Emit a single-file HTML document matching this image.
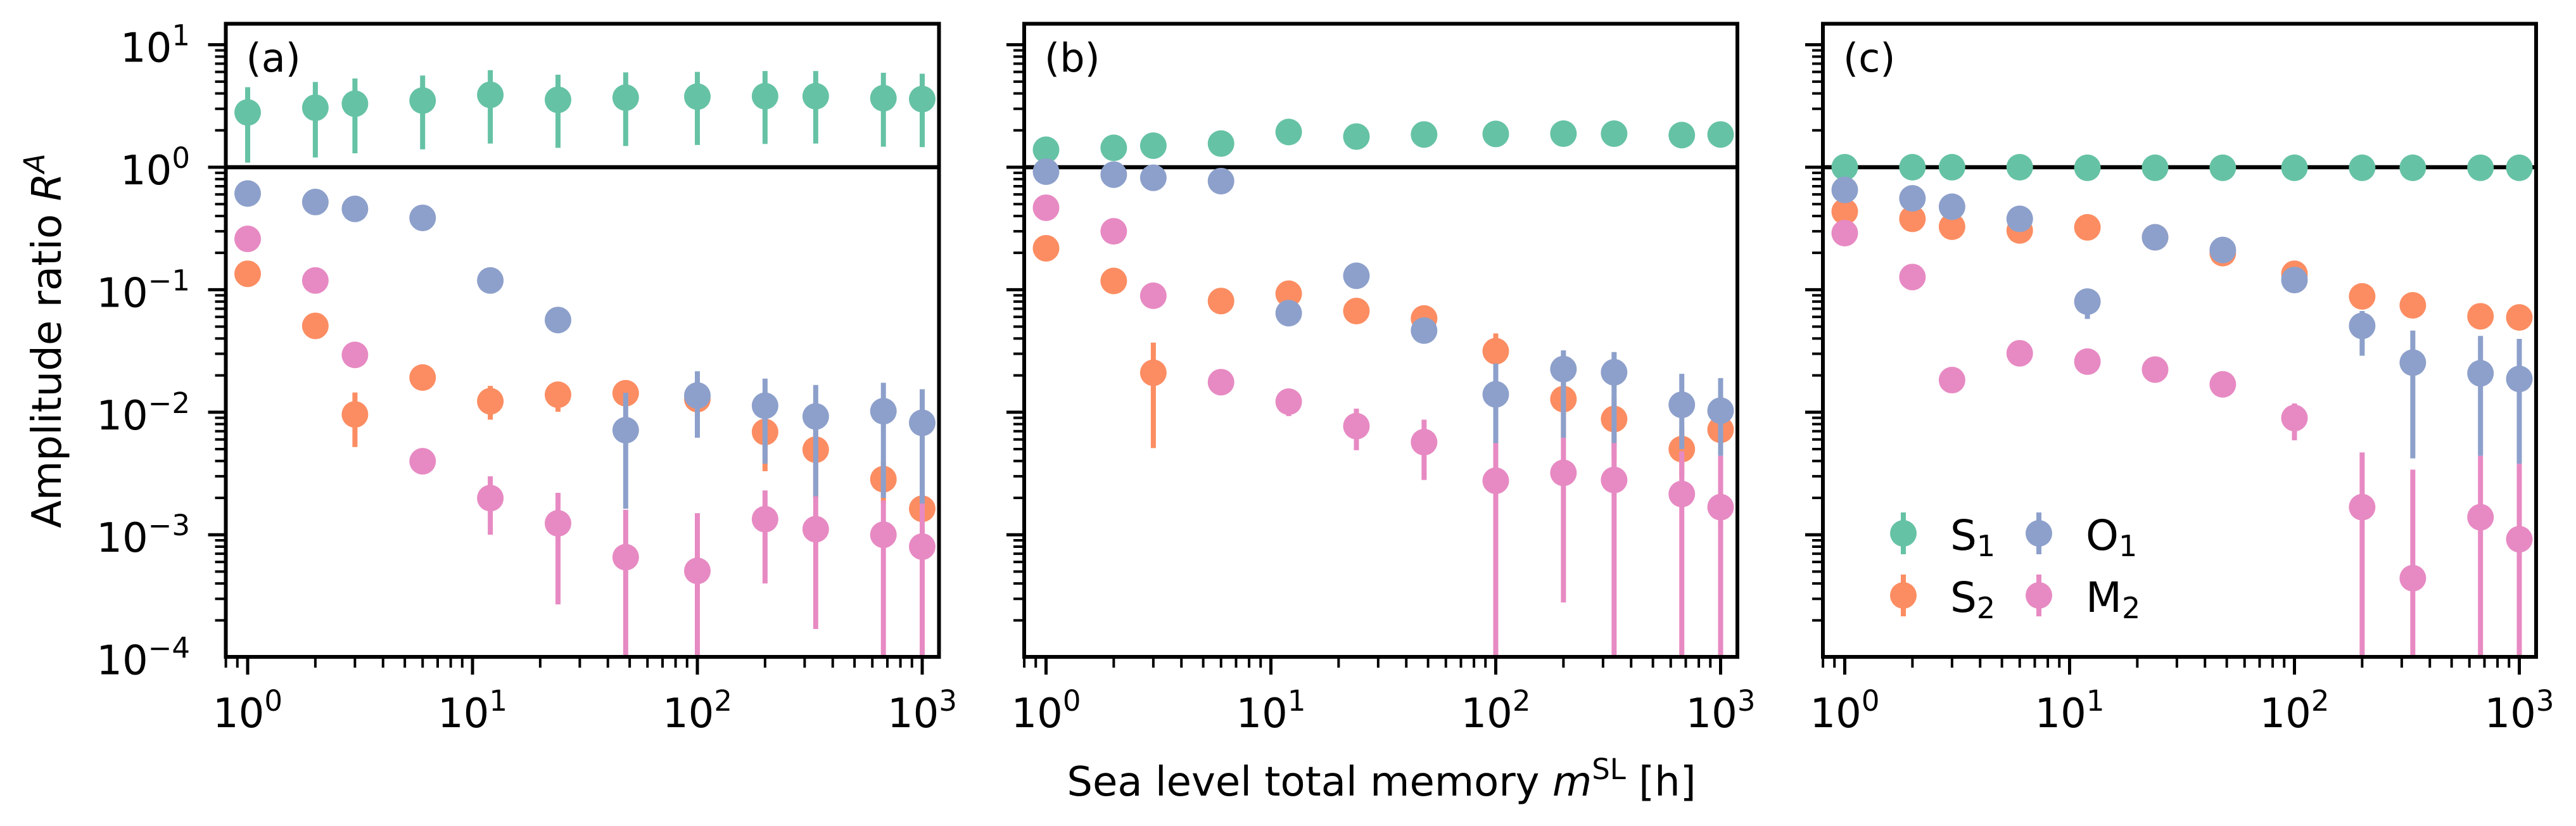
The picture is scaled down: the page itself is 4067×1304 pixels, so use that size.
<!DOCTYPE html>
<html><head><meta charset="utf-8">
<style>
html,body{margin:0;padding:0;background:#fff;}
svg{display:block;font-family:"DejaVu Sans","Liberation Sans",sans-serif;}
</style></head>
<body>
<svg id="fig" width="4067" height="1304" viewBox="0 0 4067 1304" xmlns="http://www.w3.org/2000/svg">
<rect width="4067" height="1304" fill="#fff"/>
<text transform="translate(96,538) rotate(-90)" text-anchor="middle" font-size="64">Amplitude ratio <tspan font-style="italic">R</tspan><tspan font-style="italic" font-size="45" dy="-26">A</tspan></text>
<text x="2181" y="1256" text-anchor="middle" font-size="64">Sea level total memory <tspan font-style="italic">m</tspan><tspan font-size="45" dy="-26">SL</tspan><tspan dy="26"> [h]</tspan></text>
<g id="panels"></g>
</svg>
<script>
// ---- data ----
const memory = [1,2,3,6,12,24,48,100,200,336,672,1000];
const seriesNames = ['S1','S2','O1','M2'];
const seriesColors = ['#66c2a5','#fc8d62','#8da0cb','#e78ac3'];
const panelLabels = ['(a)','(b)','(c)'];
const xTickLabels = ['0','1','2','3'];
const yTickLabels = ['1','0','\u22121','\u22122','\u22123','\u22124'];

// panel a
const aS1 = [2.8,3.06,3.3,3.5,3.9,3.55,3.7,3.77,3.8,3.8,3.66,3.6];
const aS1lo = [1.09,1.2,1.3,1.4,1.56,1.44,1.49,1.52,1.55,1.56,1.47,1.46];
const aS1hi = [4.5,4.97,5.3,5.6,6.2,5.7,5.95,6.0,6.1,6.1,5.9,5.8];
const aS2 = [0.135,0.0507,0.0096,0.0192,0.0123,0.0139,0.0143,0.0128,0.0069,0.00495,0.00284,0.00163];
const aS2lo = [0.13,0.049,0.0052,0.0185,0.0087,0.0101,0.0125,0.011,0.0033,0.002,0.0018,0.0012];
const aS2hi = [0.14,0.052,0.0145,0.02,0.0164,0.0159,0.016,0.0145,0.0095,0.0075,0.004,0.0022];
const aO1 = [0.61,0.52,0.457,0.386,0.119,0.0566,0.00714,0.0137,0.0113,0.00924,0.0102,0.0082];
const aO1lo = [0.6,0.51,0.45,0.38,0.117,0.055,0.00163,0.0062,0.0038,0.002,0.002,0.0012];
const aO1hi = [0.62,0.53,0.465,0.39,0.121,0.058,0.0144,0.0216,0.0188,0.0167,0.0174,0.0154];
const aM2 = [0.26,0.119,0.0294,0.00398,0.00199,0.00124,0.000656,0.000507,0.00134,0.00111,0.001,0.0008];
const aM2lo = [0.25,0.115,0.028,0.0034,0.001,0.00027,0.00001,0.00001,0.0004,0.00017,0.00001,0.00001];
const aM2hi = [0.27,0.123,0.031,0.0046,0.003,0.0022,0.0016,0.0015,0.0023,0.00206,0.0019,0.0018];

// panel b
const bS1 = [1.39,1.44,1.5,1.56,1.94,1.78,1.85,1.87,1.88,1.88,1.83,1.85];
const bS1lo = [1.36,1.41,1.47,1.53,1.9,1.75,1.82,1.84,1.85,1.85,1.8,1.82];
const bS1hi = [1.42,1.47,1.53,1.59,1.98,1.81,1.88,1.9,1.91,1.91,1.86,1.88];
const bS2 = [0.218,0.118,0.021,0.0809,0.0928,0.067,0.0583,0.0315,0.0128,0.0088,0.005,0.0072];
const bS2lo = [0.21,0.114,0.0051,0.078,0.088,0.064,0.054,0.024,0.0062,0.004,0.003,0.0045];
const bS2hi = [0.226,0.122,0.037,0.084,0.097,0.07,0.063,0.044,0.019,0.013,0.0075,0.0105];
const bO1 = [0.92,0.87,0.82,0.77,0.0644,0.13,0.0464,0.014,0.0225,0.0212,0.0115,0.0103];
const bO1lo = [0.9,0.85,0.8,0.75,0.062,0.127,0.044,0.0042,0.0062,0.005,0.005,0.0044];
const bO1hi = [0.94,0.89,0.84,0.79,0.067,0.133,0.049,0.025,0.032,0.031,0.0206,0.019];
const bM2 = [0.467,0.3,0.0893,0.0176,0.0122,0.0077,0.0057,0.00276,0.0032,0.0028,0.00215,0.00168];
const bM2lo = [0.455,0.29,0.086,0.0168,0.0093,0.0049,0.0028,0.00001,0.00028,0.00001,0.00001,0.00001];
const bM2hi = [0.48,0.31,0.093,0.0185,0.014,0.0107,0.0087,0.0056,0.0062,0.0056,0.0048,0.0044];

// panel c
const cS1 = [1.0,1.0,1.0,1.0,0.99,0.99,0.99,0.99,0.99,0.99,0.99,0.99];
const cS1lo = [0.98,0.98,0.98,0.98,0.97,0.97,0.97,0.97,0.97,0.97,0.97,0.97];
const cS1hi = [1.02,1.02,1.02,1.02,1.01,1.01,1.01,1.01,1.01,1.01,1.01,1.01];
const cS2 = [0.435,0.379,0.327,0.305,0.323,0.268,0.199,0.135,0.0883,0.0746,0.0607,0.0594];
const cS2lo = [0.43,0.37,0.32,0.3,0.317,0.263,0.194,0.13,0.085,0.072,0.058,0.057];
const cS2hi = [0.44,0.387,0.334,0.31,0.33,0.273,0.204,0.14,0.092,0.077,0.063,0.062];
const cO1 = [0.653,0.557,0.476,0.379,0.08,0.268,0.211,0.12,0.0507,0.0254,0.0208,0.0187];
const cO1lo = [0.64,0.547,0.467,0.372,0.0578,0.262,0.205,0.115,0.0289,0.0042,0.0044,0.0038];
const cO1hi = [0.665,0.567,0.485,0.386,0.099,0.274,0.217,0.125,0.067,0.0464,0.042,0.0397];
const cM2 = [0.29,0.127,0.0183,0.0303,0.0259,0.0223,0.0169,0.00897,0.00168,0.000442,0.00139,0.000919];
const cM2lo = [0.285,0.124,0.0178,0.0295,0.025,0.0216,0.0163,0.0059,0.00001,0.00001,0.00001,0.00001];
const cM2hi = [0.295,0.13,0.0188,0.031,0.0268,0.023,0.0175,0.0118,0.0047,0.0034,0.0044,0.0038];

const panelData = [
  [[aS1,aS1lo,aS1hi],[aS2,aS2lo,aS2hi],[aO1,aO1lo,aO1hi],[aM2,aM2lo,aM2hi]],
  [[bS1,bS1lo,bS1hi],[bS2,bS2lo,bS2hi],[bO1,bO1lo,bO1hi],[bM2,bM2lo,bM2hi]],
  [[cS1,cS1lo,cS1hi],[cS2,cS2lo,cS2hi],[cO1,cO1lo,cO1hi],[cM2,cM2lo,cM2hi]]
];

// ---- layout ----
const NS = 'http://www.w3.org/2000/svg';
const panelLeft = [356.5, 1617, 2878];
const axW = 1126;
const axTop = 37.5, axBot = 1037;
const xLogMin = -34.5/355, xDec = 355;
const yLogMax = Math.log10(10) + (70.6-37.5)/193.4, yDec = 193.4;
function mk(tag, attrs, parent){const e=document.createElementNS(NS,tag);for(const k in attrs)e.setAttribute(k,attrs[k]);parent.appendChild(e);return e;}
const root = document.getElementById('panels');

panelData.forEach((series, p) => {
  const L = panelLeft[p];
  const xs = v => L + (Math.log10(v) - xLogMin) * xDec;
  const ys = v => axTop + (yLogMax - Math.log10(v)) * yDec;
  const g = mk('g', {}, root);
  
  
  const clip = mk('clipPath', {id:'clip'+p}, g);
  mk('rect', {x:L, y:axTop, width:axW, height:axBot-axTop}, clip);
  const hl = mk('line', {x1:L, x2:L+axW, y1:ys(1), y2:ys(1), stroke:'#000', 'stroke-width':6.5}, g);
  
  
  const dg = mk('g', {'clip-path':'url(#clip'+p+')'}, g);
  series.forEach((s, si) => {
    const sg = mk('g', {}, dg);
    
    
    memory.forEach((m, i) => {
      const x = xs(m);
      const eb = mk('line', {x1:x, x2:x, y1:ys(s[2][i]), y2:ys(s[1][i]), stroke:seriesColors[si], 'stroke-width':8}, sg);
      
      
      const c = mk('circle', {cx:x, cy:ys(s[0][i]), r:21, fill:seriesColors[si]}, sg);
      
      
    });
  });
  const sp = mk('rect', {x:L, y:axTop, width:axW, height:axBot-axTop, fill:'none', stroke:'#000', 'stroke-width':6}, g);
  
  
  for (let d = 0; d <= 3; d++) {
    for (let k = 1; k <= 9; k++) {
      const v = k * Math.pow(10, d);
      const x = xs(v);
      if (x < L || x > L + axW) continue;
      mk('line', {x1:x, x2:x, y1:axBot, y2:axBot + (k===1?28:17), stroke:'#000', 'stroke-width':k===1?5:4}, g);
    }
  }
  for (let k = 8; k <= 9; k++) { const x = xs(k/10); if (x > L) mk('line', {x1:x,x2:x,y1:axBot,y2:axBot+17,stroke:'#000','stroke-width':4}, g); }
  xTickLabels.forEach((t, i) => {
    const x = xs(Math.pow(10, i));
    const tx = mk('text', {x:x, y:1148, 'text-anchor':'middle', 'font-size':64}, g);
    
    
    tx.appendChild(document.createTextNode('10'));
    const sup = mk('tspan', {'font-size':45, dy:-26}, tx);
    sup.textContent = t;
  });
  for (let d = -4; d <= 1; d++) {
    for (let k = 1; k <= 9; k++) {
      const v = k * Math.pow(10, d);
      const y = ys(v);
      if (y < axTop || y > axBot) continue;
      mk('line', {x1:L - (k===1?28:17), x2:L, y1:y, y2:y, stroke:'#000', 'stroke-width':k===1?5:4}, g);
    }
  }
  if (p === 0) {
    yTickLabels.forEach((t, i) => {
      const y = ys(Math.pow(10, 1 - i));
      const tx = mk('text', {x:300, y:y + 27, 'text-anchor':'end', 'font-size':64}, g);
      
      
      tx.appendChild(document.createTextNode('10'));
      const sup = mk('tspan', {'font-size':45, dy:-26}, tx);
      sup.textContent = t;
    });
  }
  const pl = mk('text', {x:L + 32, y:113, 'font-size':62}, g);
  
  
  pl.textContent = panelLabels[p];
});

const lg = mk('g', {}, root);


const legPos = [[3005,842],[3005,940],[3219,842],[3219,940]];
const legSub = ['1','2','1','2'];
const legMain = ['S','S','O','M'];
seriesNames.forEach((n, i) => {
  const e = mk('g', {}, lg);
  
  
  const [x, y] = legPos[i];
  mk('line', {x1:x, x2:x, y1:y-33, y2:y+33, stroke:seriesColors[i], 'stroke-width':8}, e);
  mk('circle', {cx:x, cy:y, r:21, fill:seriesColors[i]}, e);
  const t = mk('text', {x:x + 74, y:y + 26, 'font-size':66}, e);
  t.appendChild(document.createTextNode(legMain[i]));
  const sb = mk('tspan', {'font-size':46, dy:10}, t);
  sb.textContent = legSub[i];
});
</script>
</body></html>
